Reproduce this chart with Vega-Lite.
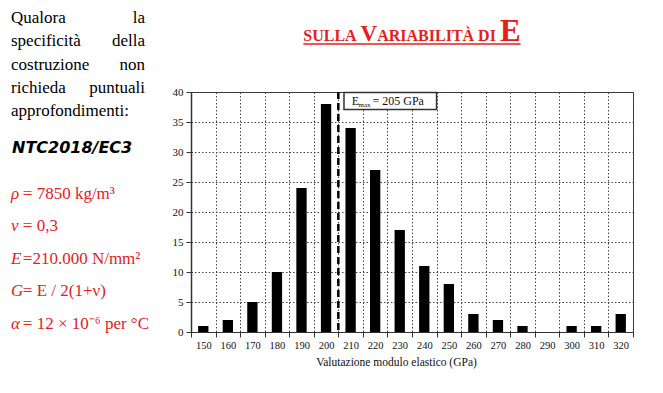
{
  "$schema": "https://vega.github.io/schema/vega-lite/v6.json",
  "background": "white",
  "padding": {"left": 11, "top": 0, "right": 0, "bottom": 0},
  "config": {"view": {"stroke": null}, "font": "Liberation Serif"},
  "bounds": "flush",
  "spacing": 180,
  "resolve": {"scale": {"x": "independent", "y": "independent"}},
  "hconcat": [
    {
      "bounds": "flush",
      "spacing": 0,
      "resolve": {"scale": {"x": "independent", "y": "independent"}},
      "vconcat": [
        {
          "width": 134,
          "height": 139,
          "data": {"values": [
            {"pline": 1, "left": "Qualora", "right": "la"},
            {"pline": 2, "left": "specificità", "right": "della"},
            {"pline": 3, "left": "costruzione", "right": "non"},
            {"pline": 4, "left": "richieda", "right": "puntuali"},
            {"pline": 5, "left": "approfondimenti:", "right": ""}
          ]},
          "encoding": {
            "y": {"field": "pline", "type": "ordinal", "scale": {"type": "point", "padding": 1.52}, "axis": null}
          },
          "layer": [
            {
              "mark": {"type": "text", "align": "left", "baseline": "alphabetic", "font": "Liberation Serif", "fontSize": 17, "color": "#000"},
              "encoding": {
                "x": {"datum": 0, "type": "quantitative", "scale": {"domain": [0, 1]}, "axis": null},
                "text": {"field": "left"}
              }
            },
            {
              "mark": {"type": "text", "align": "right", "baseline": "alphabetic", "font": "Liberation Serif", "fontSize": 17, "color": "#000"},
              "encoding": {
                "x": {"datum": 1, "type": "quantitative", "scale": {"domain": [0, 1]}, "axis": null},
                "text": {"field": "right"}
              }
            }
          ]
        },
        {
          "width": 134,
          "height": 27,
          "data": {"values": [{"t": "NTC2018/EC3"}]},
          "mark": {"type": "text", "align": "left", "baseline": "alphabetic", "font": "DejaVu Sans", "fontWeight": "bold", "fontStyle": "italic", "fontSize": 16, "color": "#000", "dx": 1},
          "encoding": {
            "x": {"datum": 0, "type": "quantitative", "scale": {"domain": [0, 1]}, "axis": null},
            "y": {"field": "t", "type": "ordinal", "scale": {"type": "point"}, "axis": null},
            "text": {"field": "t"}
          }
        },
        {
          "width": 134,
          "height": 195,
          "data": {"values": [
            {"fline": 1, "sym": "ρ", "rest": "= 7850 kg/m³"},
            {"fline": 2, "sym": "ν", "rest": "= 0,3"},
            {"fline": 3, "sym": "E", "rest": "=210.000 N/mm²"},
            {"fline": 4, "sym": "G", "rest": "= E / 2(1+ν)"},
            {"fline": 5, "sym": "α", "rest": "= 12 × 10⁻⁶ per °C"}
          ]},
          "encoding": {
            "y": {"field": "fline", "type": "ordinal", "scale": {"type": "point", "padding": 1.022}, "axis": null},
            "x": {"datum": 0, "type": "quantitative", "scale": {"domain": [0, 1]}, "axis": null}
          },
          "layer": [
            {
              "mark": {"type": "text", "align": "left", "baseline": "alphabetic", "font": "Liberation Serif", "fontStyle": "italic", "fontSize": 17, "color": "#e2211c"},
              "encoding": {"text": {"field": "sym"}}
            },
            {
              "mark": {"type": "text", "align": "left", "baseline": "alphabetic", "font": "Liberation Serif", "fontSize": 17, "color": "#e2211c", "dx": 11.8},
              "encoding": {"text": {"field": "rest"}}
            }
          ]
        }
      ]
    },
    {
      "bounds": "flush",
      "spacing": 48,
      "resolve": {"scale": {"x": "independent", "y": "independent"}},
      "vconcat": [
        {
          "width": 442,
          "height": 44,
          "data": {"values": [{"title": "Sulla Variabilità di E"}]},
          "encoding": {
            "x": {"datum": 0.5, "type": "quantitative", "scale": {"domain": [0, 1]}, "axis": null},
            "y": {"datum": 0, "type": "quantitative", "scale": {"domain": [0, 1]}, "axis": null}
          },
          "layer": [
            {"mark": {"type": "text", "text": "SULLA ", "align": "left", "baseline": "alphabetic", "dx": -108.7, "dy": -3, "font": "Liberation Serif", "fontSize": 16, "fontWeight": "bold", "color": "#e2211c"}},
            {"mark": {"type": "text", "text": "V", "align": "left", "baseline": "alphabetic", "dx": -51.4, "dy": -3, "font": "Liberation Serif", "fontSize": 23, "fontWeight": "bold", "color": "#e2211c"}},
            {"mark": {"type": "text", "text": "ARIABILITÀ DI ", "align": "left", "baseline": "alphabetic", "dx": -34.8, "dy": -3, "font": "Liberation Serif", "fontSize": 16, "fontWeight": "bold", "color": "#e2211c"}},
            {"mark": {"type": "text", "text": "E", "align": "left", "baseline": "alphabetic", "dx": 87.9, "dy": -3, "font": "Liberation Serif", "fontSize": 31, "fontWeight": "bold", "color": "#e2211c"}},
            {
              "mark": {"type": "rule", "color": "#e2211c", "strokeWidth": 1.5},
              "encoding": {"x": {"datum": 0.2541, "type": "quantitative"}, "x2": {"datum": 0.7457}}
            }
          ]
        },
        {
          "width": 442,
          "height": 240,
          "view": {"stroke": "#333", "strokeWidth": 1},
          "layer": [
            {
              "data": {"values": [
                {"E": 150, "count": 1},
                {"E": 160, "count": 2},
                {"E": 170, "count": 5},
                {"E": 180, "count": 10},
                {"E": 190, "count": 24},
                {"E": 200, "count": 38},
                {"E": 210, "count": 34},
                {"E": 220, "count": 27},
                {"E": 230, "count": 17},
                {"E": 240, "count": 11},
                {"E": 250, "count": 8},
                {"E": 260, "count": 3},
                {"E": 270, "count": 2},
                {"E": 280, "count": 1},
                {"E": 290, "count": 0},
                {"E": 300, "count": 1},
                {"E": 310, "count": 1},
                {"E": 320, "count": 3}
              ]},
              "mark": {"type": "bar", "color": "#000", "width": {"band": 0.42}},
              "encoding": {
                "x": {
                  "field": "E",
                  "type": "ordinal",
                  "scale": {"domain": [150, 160, 170, 180, 190, 200, 210, 220, 230, 240, 250, 260, 270, 280, 290, 300, 310, 320], "paddingInner": 0, "paddingOuter": 0},
                  "axis": {
                    "title": "Valutazione modulo elastico (GPa)",
                    "tickBand": "extent",
                    "labelAngle": 0,
                    "labelFont": "Liberation Serif",
                    "labelFontSize": 10.5,
                    "labelColor": "#111",
                    "labelPadding": 3,
                    "tickSize": 5,
                    "tickColor": "#333",
                    "domainColor": "#333",
                    "domainWidth": 1.2,
                    "grid": true,
                    "gridColor": "#444",
                    "gridDash": [1.5, 2],
                    "gridWidth": 1,
                    "titleFont": "Liberation Serif",
                    "titleFontSize": 11.5,
                    "titleFontWeight": "normal",
                    "titleColor": "#111",
                    "titlePadding": 6,
                    "titleX": 205
                  }
                },
                "y": {
                  "field": "count",
                  "type": "quantitative",
                  "scale": {"domain": [0, 40], "nice": false},
                  "axis": {
                    "title": null,
                    "values": [0, 5, 10, 15, 20, 25, 30, 35, 40],
                    "labelOverlap": false,
                    "labelFont": "Liberation Serif",
                    "labelFontSize": 11,
                    "labelColor": "#111",
                    "labelPadding": 3,
                    "tickSize": 5,
                    "tickColor": "#333",
                    "domainColor": "#333",
                    "domainWidth": 1.5,
                    "grid": true,
                    "gridColor": "#444",
                    "gridDash": [1.5, 2],
                    "gridWidth": 1
                  }
                }
              }
            },
            {
              "data": {"values": [{"Emax": 205}]},
              "mark": {"type": "rule", "color": "#000", "strokeWidth": 2.5, "strokeDash": [7, 4]},
              "encoding": {"x": {"datum": 210, "type": "ordinal", "bandPosition": 0}}
            },
            {
              "data": {"values": [{"label": "= 205 GPa"}]},
              "encoding": {
                "x": {"datum": 210, "type": "ordinal", "bandPosition": 0.23},
                "y": {
                  "datum": 37.9,
                  "type": "quantitative",
                  "axis": {
                    "title": null,
                    "values": [0, 5, 10, 15, 20, 25, 30, 35, 40],
                    "labelOverlap": false,
                    "labelFont": "Liberation Serif",
                    "labelFontSize": 11,
                    "labelColor": "#111",
                    "labelPadding": 3,
                    "tickSize": 5,
                    "tickColor": "#333",
                    "domainColor": "#333",
                    "domainWidth": 1.5,
                    "grid": true,
                    "gridColor": "#444",
                    "gridDash": [1.5, 2],
                    "gridWidth": 1
                  }
                }
              },
              "layer": [
                {
                  "mark": {"type": "rect", "fill": "white", "stroke": "#333", "strokeWidth": 1.5},
                  "encoding": {
                    "x2": {"datum": 250, "bandPosition": 0},
                    "y": {
                      "datum": 39.9,
                      "type": "quantitative",
                      "axis": {
                        "title": null,
                        "values": [0, 5, 10, 15, 20, 25, 30, 35, 40],
                        "labelOverlap": false,
                        "labelFont": "Liberation Serif",
                        "labelFontSize": 11,
                        "labelColor": "#111",
                        "labelPadding": 3,
                        "tickSize": 5,
                        "tickColor": "#333",
                        "domainColor": "#333",
                        "domainWidth": 1.5,
                        "grid": true,
                        "gridColor": "#444",
                        "gridDash": [1.5, 2],
                        "gridWidth": 1
                      }
                    },
                    "y2": {"datum": 37.1}
                  }
                },
                {
                  "mark": {"type": "text", "text": "E", "align": "left", "baseline": "alphabetic", "dx": 7.7, "font": "Liberation Serif", "fontSize": 12, "color": "#111"}
                },
                {
                  "mark": {"type": "text", "text": "max", "align": "left", "baseline": "alphabetic", "dx": 14.5, "dy": 2.5, "font": "Liberation Serif", "fontSize": 7, "color": "#111"}
                },
                {
                  "mark": {"type": "text", "align": "left", "baseline": "alphabetic", "dx": 28.5, "font": "Liberation Serif", "fontSize": 12, "color": "#111"},
                  "encoding": {"text": {"field": "label"}}
                }
              ]
            }
          ]
        }
      ]
    }
  ]
}
